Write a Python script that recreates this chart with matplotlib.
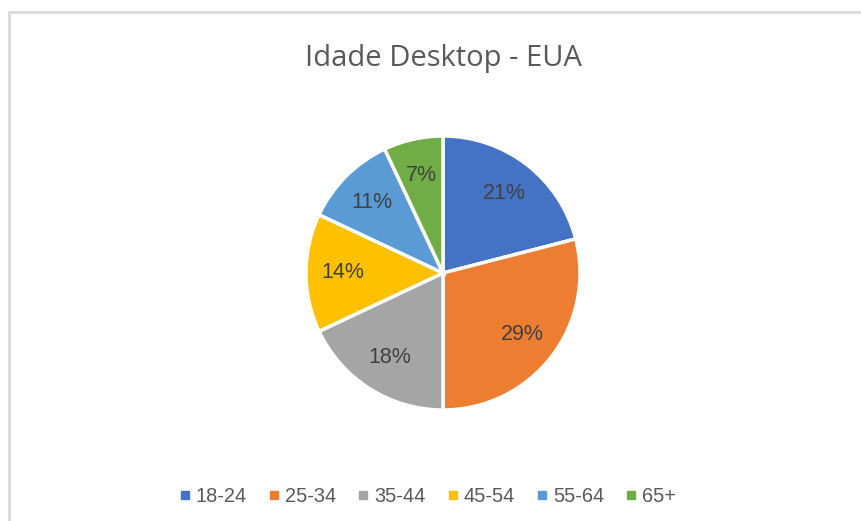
import matplotlib.pyplot as plt
from matplotlib.patches import Rectangle
from matplotlib.lines import Line2D

# data
faixas = ["18-24", "25-34", "35-44", "45-54", "55-64", "65+"]
valores = [21, 29, 18, 14, 11, 7]
cores = ["#4472C4", "#ED7D31", "#A5A5A5", "#FFC000", "#5B9BD5", "#70AD47"]
titulo = "Idade Desktop - EUA"

W, H = 861, 521
fig = plt.figure(figsize=(W / 100, H / 100), dpi=100)

# pie axes: center (443, 273) px, radius 137 px
cx, cy, r = 443, 273, 137
ax = fig.add_axes([(cx - r) / W, (H - cy - r) / H, 2 * r / W, 2 * r / H])
wedges, texts, autotexts = ax.pie(
    valores, colors=cores, startangle=90, counterclock=False,
    autopct=lambda p: f"{p:.0f}%", pctdistance=0.73,
    wedgeprops=dict(edgecolor="white", linewidth=2.5),
    textprops=dict(family="Liberation Sans", fontsize=15.5, color="#404040"),
)
ax.set_xlim(-1, 1)
ax.set_ylim(-1, 1)
ax.set_aspect("equal")
ax.axis("off")

# title
fig.text(cx / W, (H - 66) / H, titulo, ha="center", va="baseline",
         family="Open Sans", fontsize=21, color="#595959")

# legend
handles = [Line2D([], [], marker="s", linestyle="none", markersize=5.5,
                  markerfacecolor=c, markeredgecolor=c) for c in cores]
leg = fig.legend(handles, faixas, loc="center", bbox_to_anchor=(428 / W, (H - 496) / H),
                 ncol=6, frameon=False, handlelength=0.5, handletextpad=0.3,
                 columnspacing=1.1, borderpad=0, borderaxespad=0,
                 prop=dict(family="Liberation Sans", size=14.4))
for t in leg.get_texts():
    t.set_color("#595959")

# chart border (right/bottom run off the image)
fig.add_artist(Rectangle((9 / W, -0.1), 2, 1.1 - 12 / H, transform=fig.transFigure,
                         fill=False, edgecolor="#d9d9d9", linewidth=2))

fig.savefig("out.png", dpi=100)
